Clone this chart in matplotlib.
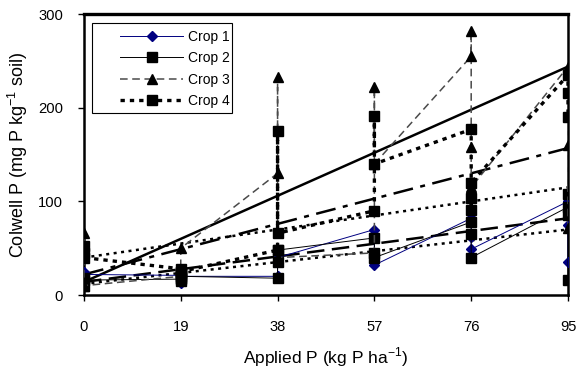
import numpy as np
import matplotlib.pyplot as plt
from matplotlib.patches import Rectangle

plt.rcParams['font.family'] = ['Liberation Sans', 'DejaVu Sans']
plt.rcParams['font.size'] = 10

# replicate values at each applied P rate, in plotting order
crop1_x = [0, 0, 0, 19, 19, 19, 38, 38, 38, 57, 57, 57, 76, 76, 76, 95, 95, 95]
crop1_y = [12, 25, 22, 21, 13, 20, 20, 45, 40, 70, 35, 32, 82, 62, 49, 100, 75, 35]

crop2_x = [0, 0, 0, 19, 19, 19, 19, 38, 38, 38, 57, 57, 57, 76, 76, 76, 95, 95, 95, 95]
crop2_y = [10, 18, 16, 17, 25, 15, 20, 18, 35, 48, 61, 45, 40, 78, 65, 40, 94, 108, 85, 16]

crop3_x = [0, 0, 19, 19, 38, 38, 38, 57, 57, 57, 76, 76, 76, 76, 95, 95, 95]
crop3_y = [66, 10, 20, 50, 130, 233, 40, 45, 222, 140, 255, 282, 158, 115, 244, 160, 72]

crop4_x = [0, 0, 0, 19, 19, 19, 19, 38, 38, 38, 57, 57, 57, 76, 76, 76, 76, 95, 95, 95]
crop4_y = [45, 52, 40, 28, 22, 18, 25, 48, 175, 66, 90, 191, 140, 177, 104, 91, 120, 235, 216, 190]

# linear trend lines, value at 0 and at 95 kg P/ha
trend_x = [0, 95]
trend_solid = [14, 244]
trend_dashdot = [22, 157]
trend_dash = [14, 82]
trend_dot_low = [12, 70]
trend_dot_high = [40, 115]

xticks = [0, 19, 38, 57, 76, 95]
yticks = [0, 100, 200, 300]

fig = plt.figure(figsize=(5.79, 3.73), dpi=100)
ax = fig.add_axes([0.145, 0.209, 0.836, 0.753])

# trend lines first so the series sit on top
ax.plot(trend_x, trend_solid, color='black', lw=1.8)
ax.plot(trend_x, trend_dashdot, color='black', lw=1.8, dashes=(8, 3, 2, 3))
ax.plot(trend_x, trend_dash, color='black', lw=1.8, dashes=(7, 3))
ax.plot(trend_x, trend_dot_low, color='black', lw=1.8, dashes=(1.2, 1.8))
ax.plot(trend_x, trend_dot_high, color='black', lw=1.8, dashes=(1.2, 1.8))

ax.plot(crop1_x, crop1_y, color='#000080', lw=0.7, marker='D', ms=5,
        mfc='#000080', mec='#000080', label='Crop 1', zorder=4)
ax.plot(crop2_x, crop2_y, color='black', lw=0.7, marker='s', ms=7,
        mfc='black', mec='black', label='Crop 2', zorder=4)
ax.plot(crop3_x, crop3_y, color='#4a4a4a', lw=1.1, dashes=(5, 3), marker='^', ms=7.5,
        mfc='black', mec='black', label='Crop 3', zorder=4)
ax.plot(crop4_x, crop4_y, color='black', lw=2.4, dashes=(1.3, 1.5), marker='s', ms=7,
        mfc='black', mec='black', label='Crop 4', zorder=4)

ax.set_xlim(0, 95)
ax.set_ylim(0, 300)
ax.set_xticks(xticks)
ax.set_yticks(yticks)
ax.tick_params(direction='out', length=4, width=1, labelsize=10.6)
ax.tick_params(axis='x', pad=14)
ax.tick_params(axis='y', pad=11)
for s in ax.spines.values():
    s.set_linewidth(1.8)
ax.spines['top'].set_linewidth(2.4)

ax.set_xlabel('Applied P (kg P ha$^{\\mathregular{-1}}$)', fontsize=12.5)
ax.set_ylabel('Colwell P (mg P kg$^{\\mathregular{-1}}$ soil)', fontsize=13)
ax.xaxis.set_label_coords(0.5, -0.178)
ax.yaxis.set_label_coords(-0.112, 0.5)

leg = ax.legend(loc='upper left', bbox_to_anchor=(0.065, 0.958), frameon=False,
                handlelength=4.6, handletextpad=0.3, labelspacing=0.52,
                borderpad=0.3, borderaxespad=0, numpoints=1, fontsize=10)
# legend box drawn separately (wider left margin than matplotlib's)
ax.add_patch(Rectangle((0.0165, 0.649), 0.29, 0.318, transform=ax.transAxes,
                       fill=True, facecolor='white', edgecolor='black', lw=0.8, zorder=5))
leg.set_zorder(6)

fig.savefig('out.png', dpi=100)
